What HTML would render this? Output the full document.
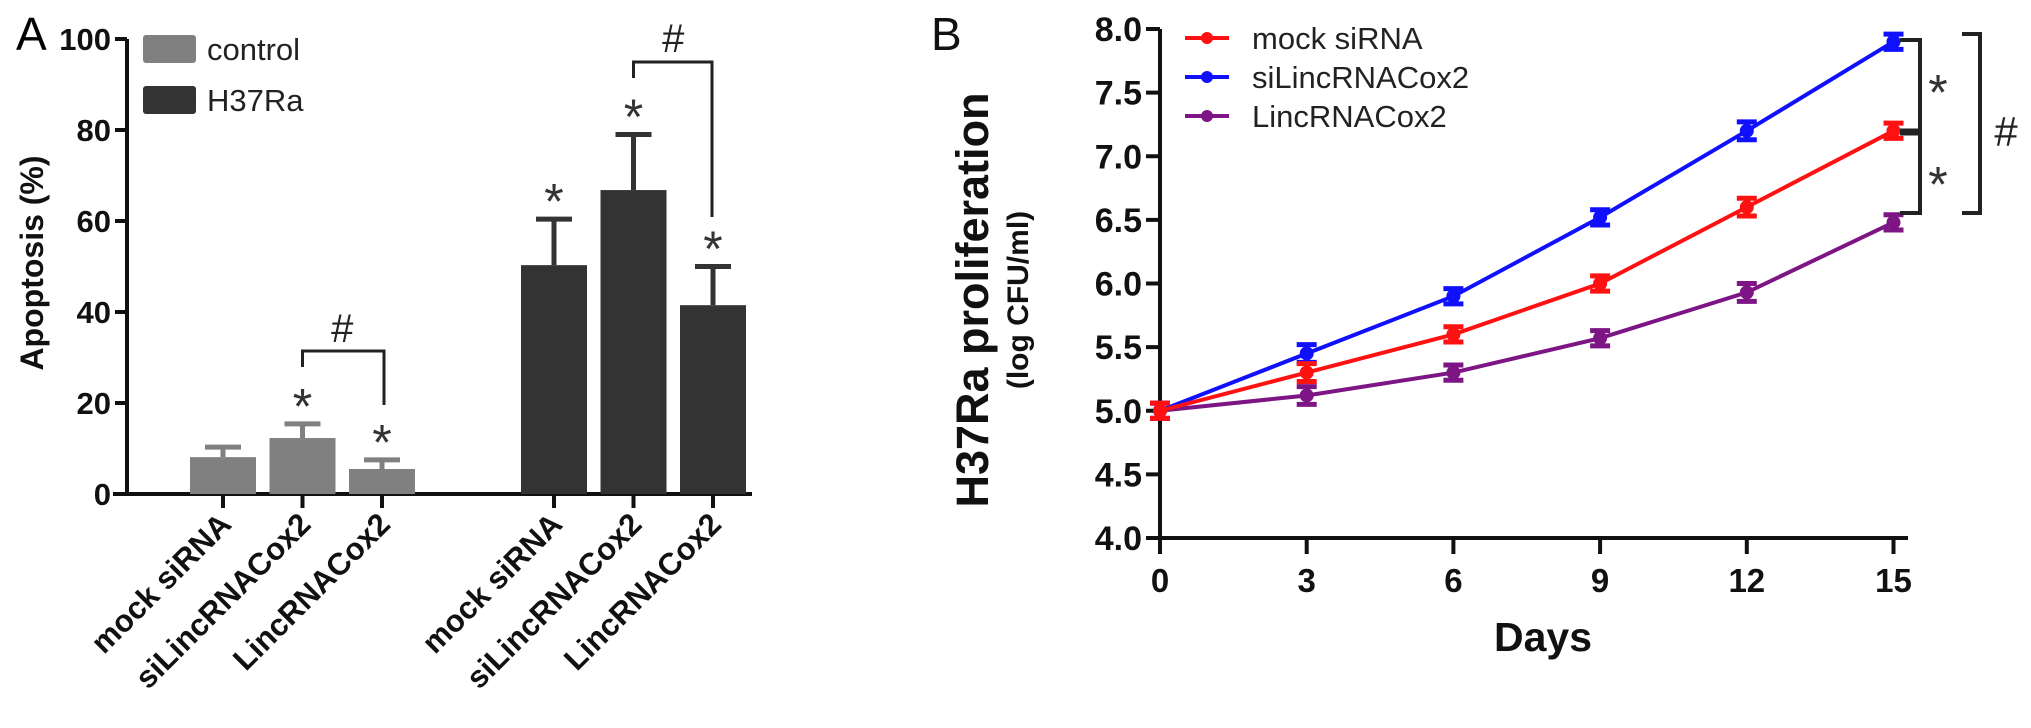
<!DOCTYPE html>
<html><head><meta charset="utf-8"><style>
html,body{margin:0;padding:0;background:#fff;}
svg{display:block;font-family:"Liberation Sans",Arial,sans-serif;}
</style></head><body>
<svg id="fig" width="2031" height="728" viewBox="0 0 2031 728" xmlns="http://www.w3.org/2000/svg">
<g id="pa"></g>
<g id="pb"></g>
</svg>
<script>
// Panel A data
const aCategories = ["mock siRNA","siLincRNACox2","LincRNACox2"];
const aGroups = ["control","H37Ra"];
const aControl = [8.1, 12.3, 5.5];
const aControlErr = [2.2, 3.1, 2.0];
const aH37Ra = [50.3, 66.8, 41.5];
const aH37RaErr = [10.1, 12.2, 8.5];
const aTicks = [0,20,40,60,80,100];
// Panel B data
const bDays = [0,3,6,9,12,15];
const bMock = [5.0,5.3,5.6,6.0,6.6,7.2];
const bSi = [5.0,5.45,5.9,6.52,7.2,7.9];
const bLinc = [5.0,5.12,5.3,5.57,5.93,6.48];
const bErr = [0.06,0.07,0.06,0.06,0.07,0.06];
const bYTicks = [4.0,4.5,5.0,5.5,6.0,6.5,7.0,7.5,8.0];
const bSeriesNames = ["mock siRNA","siLincRNACox2","LincRNACox2"];

const NS="http://www.w3.org/2000/svg";
function mk(parent,tag,attrs,text){const e=document.createElementNS(NS,tag);for(const k in attrs)e.setAttribute(k,attrs[k]);if(text!==undefined)e.textContent=text;parent.appendChild(e);return e;}

// ---------- Panel A ----------
const pa=document.getElementById('pa');
const ay=v=>494-v*4.55;
const ax=(g,i)=>223+g*331+i*79.5;
const axA=127, axEndA=752;
let t=mk(pa,'text',{x:16,y:50,'font-size':46});
t.textContent='A';
let e=mk(pa,'line',{x1:axA,y1:ay(100),x2:axA,y2:ay(0)+2,stroke:'#111','stroke-width':4});

aTicks.forEach(v=>{
  const l=mk(pa,'line',{x1:axA-12,y1:ay(v),x2:axA,y2:ay(v),stroke:'#111','stroke-width':4});
  
  const tx=mk(pa,'text',{x:axA-16,y:ay(v)+11,'font-size':31,'font-weight':'bold','text-anchor':'end',fill:'#111'},String(v));
  
});
e=mk(pa,'text',{x:0,y:0,'font-size':32,'font-weight':'bold','text-anchor':'middle',transform:'translate(43,263) rotate(-90)',fill:'#111'},'Apoptosis (%)');

e=mk(pa,'line',{x1:axA-14,y1:ay(0),x2:axEndA,y2:ay(0),stroke:'#111','stroke-width':4});

const sets=[[aControl,aControlErr,'#808080'],[aH37Ra,aH37RaErr,'#333333']];
sets.forEach((s,g)=>{
  s[0].forEach((v,i)=>{
    const cx=ax(g,i);
    const r=mk(pa,'rect',{x:cx-33,y:ay(v),width:66,height:ay(0)-ay(v),fill:s[2]});
    
    const el=mk(pa,'path',{d:`M${cx} ${ay(v)} V${ay(v+s[1][i])} M${cx-18} ${ay(v+s[1][i])} H${cx+18}`,stroke:s[2],'stroke-width':5,fill:'none'});
    
    const tk=mk(pa,'line',{x1:cx,y1:ay(0),x2:cx,y2:ay(0)+14,stroke:'#111','stroke-width':4});
    
    const lb=mk(pa,'text',{x:0,y:0,'font-size':31,'font-weight':'bold','text-anchor':'end',fill:'#111',transform:`translate(${cx+10},${ay(0)+32}) rotate(-45)`},aCategories[i]);
    
  });
});
function star(parent,x,y,size){const s=mk(parent,'text',{x:x,y:y+size*0.55,'font-size':size,'text-anchor':'middle',fill:'#333'},'*');return s;}
star(pa,ax(0,1),ay(aControl[1]+aControlErr[1])-28,50);
star(pa,ax(0,2),ay(aControl[2]+aControlErr[2])-28,50);
star(pa,ax(1,0),ay(aH37Ra[0]+aH37RaErr[0])-28,50);
star(pa,ax(1,1),ay(aH37Ra[1]+aH37RaErr[1])-28,50);
star(pa,ax(1,2),ay(aH37Ra[2]+aH37RaErr[2])-28,50);
e=mk(pa,'path',{d:`M${ax(0,1)} 367 V351 H${ax(0,2)+2} V405`,stroke:'#222','stroke-width':3,fill:'none'});

e=mk(pa,'text',{x:(ax(0,1)+ax(0,2))/2,y:342,'font-size':40,'text-anchor':'middle',fill:'#222'},'#');

e=mk(pa,'path',{d:`M${ax(1,1)} 78 V62 H${ax(1,2)-1} V217`,stroke:'#222','stroke-width':3,fill:'none'});

e=mk(pa,'text',{x:(ax(1,1)+ax(1,2))/2,y:52,'font-size':40,'text-anchor':'middle',fill:'#222'},'#');

[['#808080',35,49],['#333333',86,100]].forEach((L,i)=>{
  const r=mk(pa,'rect',{x:143,y:L[1],width:53,height:28,rx:3,fill:L[0]});
  
  const tx=mk(pa,'text',{x:207,y:L[2]+11,'font-size':31,fill:'#222'},aGroups[i]);
  
});

// ---------- Panel B ----------
const pb=document.getElementById('pb');
const bx=d=>1160+d*48.9;
const by=v=>538-(v-4)*127.25;
e=mk(pb,'text',{x:931,y:50,'font-size':46,fill:'#111'},'B');

e=mk(pb,'line',{x1:1160,y1:by(8),x2:1160,y2:by(4)+16,stroke:'#111','stroke-width':4});

e=mk(pb,'line',{x1:1146,y1:by(4),x2:1908,y2:by(4),stroke:'#111','stroke-width':4});

bYTicks.forEach(v=>{
  const l=mk(pb,'line',{x1:1146,y1:by(v),x2:1160,y2:by(v),stroke:'#111','stroke-width':4});
  
  const tx=mk(pb,'text',{x:1142,y:by(v)+12,'font-size':34,'font-weight':'bold','text-anchor':'end',fill:'#111'},v.toFixed(1));
  
});
bDays.forEach(d=>{
  const l=mk(pb,'line',{x1:bx(d),y1:by(4),x2:bx(d),y2:by(4)+16,stroke:'#111','stroke-width':4});
  
  const tx=mk(pb,'text',{x:bx(d),y:592,'font-size':33,'font-weight':'bold','text-anchor':'middle',fill:'#111'},String(d));
  
});
e=mk(pb,'text',{x:1543,y:651,'font-size':41,'font-weight':'bold','text-anchor':'middle',fill:'#111'},'Days');

e=mk(pb,'text',{x:0,y:0,'font-size':45,'font-weight':'bold','text-anchor':'middle',fill:'#111',transform:'translate(988,300) rotate(-90)'},'H37Ra proliferation');

e=mk(pb,'text',{x:0,y:0,'font-size':30,'font-weight':'bold','text-anchor':'middle',fill:'#111',transform:'translate(1028,300) rotate(-90)'},'(log CFU/ml)');

const series=[[bMock,'#ff1111','mock-sirna'],[bSi,'#1010ff','silincrnacox2'],[bLinc,'#7d1585','lincrnacox2']];
series.slice().reverse().forEach(s=>{
  const pts=s[0].map((v,i)=>bx(bDays[i])+','+by(v)).join(' ');
  const pl=mk(pb,'polyline',{points:pts,fill:'none',stroke:s[1],'stroke-width':4});
  
  s[0].forEach((v,i)=>{
    const x=bx(bDays[i]);
    const eb=mk(pb,'path',{d:`M${x} ${by(v+bErr[i])} V${by(v-bErr[i])} M${x-10} ${by(v+bErr[i])} H${x+10} M${x-10} ${by(v-bErr[i])} H${x+10}`,stroke:s[1],'stroke-width':5,fill:'none'});
    
    const c=mk(pb,'circle',{cx:x,cy:by(v),r:7,fill:s[1]});
    
  });
});
series.forEach((s,i)=>{
  const y=38+i*39;
  const l=mk(pb,'line',{x1:1185,y1:y,x2:1229,y2:y,stroke:s[1],'stroke-width':4});
  
  const c=mk(pb,'circle',{cx:1207,cy:y,r:6,fill:s[1]});
  
  const tx=mk(pb,'text',{x:1252,y:y+11,'font-size':31,fill:'#222'},bSeriesNames[i]);
  
});
e=mk(pb,'path',{d:'M1900 40 H1920 V213 H1900',stroke:'#222','stroke-width':4,fill:'none'});

e=mk(pb,'line',{x1:1900,y1:132,x2:1920,y2:132,stroke:'#222','stroke-width':7});

star(pb,1938,82,50);star(pb,1938,174,50);
e=mk(pb,'path',{d:'M1962 34 H1980 V213 H1962',stroke:'#222','stroke-width':4,fill:'none'});

e=mk(pb,'text',{x:2006,y:146,'font-size':42,'text-anchor':'middle',fill:'#222'},'#');

</script>
</body></html>
